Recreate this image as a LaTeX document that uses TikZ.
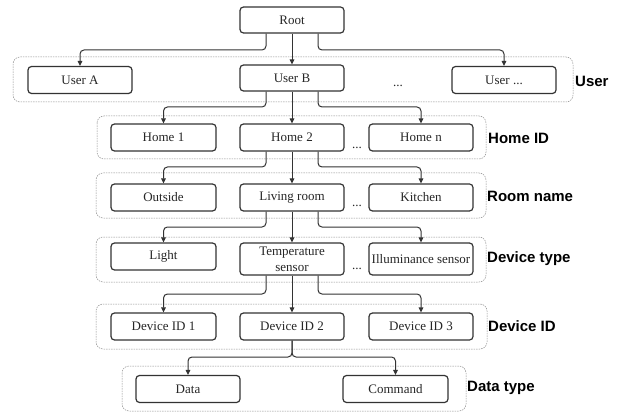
\documentclass[tikz,border=0pt]{standalone}
\usepackage{fontspec}
\setmainfont{Liberation Serif}
\newfontfamily\labfont{Liberation Sans}
\usetikzlibrary{arrows.meta}
\tikzset{
  box/.style={draw=black!80, line width=1.2pt, rounded corners=3.5pt, fill=white,
    minimum width=104pt, minimum height=27pt, inner sep=0pt, align=center,
    font=\fontsize{13}{15}\selectfont, text=black!85},
  conn/.style={draw=black!80, line width=1pt, rounded corners=4pt,
    -{Triangle[length=5pt,width=4.6pt]}},
  grp/.style={draw=black!45, line width=0.5pt, dash pattern=on 1.5pt off 1pt, rounded corners=7pt},
  lab/.style={anchor=west, inner sep=0pt, font=\labfont\bfseries\fontsize{15}{18}\selectfont},
  dots/.style={anchor=base, inner sep=0pt, font=\fontsize{13}{15}\selectfont, text=black!85}
}
\begin{document}
\begin{tikzpicture}[x=1pt,y=-1pt]
\useasboundingbox (0,0) rectangle (618,414);
% groups
\draw[grp] (13,57) rectangle (573,102);
\draw[grp] (97,116) rectangle (486,159);
\draw[grp] (96,173) rectangle (486,218);
\draw[grp] (96,237) rectangle (486,282);
\draw[grp] (96,304) rectangle (487,349);
\draw[grp] (122,366) rectangle (466,411);
% nodes
\node[box, minimum height=26pt] (root) at (292,20) {Root};
\node[box] (ua) at (80,80) {User A};
\node[box, minimum height=26pt] (ub) at (292,78) {User B};
\node[box] (uz) at (504,80) {User ...};
\node[box, minimum width=105pt] (h1) at (163.5,137.5) {Home 1};
\node[box] (h2) at (292,137.5) {Home 2};
\node[box] (hn) at (421,137.5) {Home n};
\node[box, minimum width=105pt] (r1) at (163.5,197.5) {Outside};
\node[box] (r2) at (292,197.5) {Living room};
\node[box] (r3) at (421,197.5) {Kitchen};
\node[box, minimum width=105pt] (d1) at (163.5,256.5) {Light};
\node[box, minimum height=32pt, font=\fontsize{13}{16}\selectfont] (d2) at (292,259) {Temperature\\sensor};
\node[box, minimum height=32pt] (d3) at (421,259) {Illuminance sensor};
\node[box, minimum width=105pt] (i1) at (163.5,326.5) {Device ID 1};
\node[box] (i2) at (292,326.5) {Device ID 2};
\node[box] (i3) at (421,326.5) {Device ID 3};
\node[box] (data) at (188,389) {Data};
\node[box, minimum width=105pt] (cmd) at (395.5,389) {Command};
% level coordinates
\coordinate (l1) at (0,50);
\coordinate (l2) at (0,107);
\coordinate (l3) at (0,167);
\coordinate (l4) at (0,227);
\coordinate (l5) at (0,294);
\coordinate (l6) at (0,357);
% connectors
\draw[conn] ([xshift=-26pt]root.south) |- (ua.north |- l1) -- (ua.north);
\draw[conn] (root.south) -- (ub.north);
\draw[conn] ([xshift=26pt]root.south) |- (uz.north |- l1) -- (uz.north);
\draw[conn] ([xshift=-26pt]ub.south) |- (h1.north |- l2) -- (h1.north);
\draw[conn] (ub.south) -- (h2.north);
\draw[conn] ([xshift=26pt]ub.south) |- (hn.north |- l2) -- (hn.north);
\draw[conn] ([xshift=-26pt]h2.south) |- (r1.north |- l3) -- (r1.north);
\draw[conn] (h2.south) -- (r2.north);
\draw[conn] ([xshift=26pt]h2.south) |- (r3.north |- l3) -- (r3.north);
\draw[conn] ([xshift=-26pt]r2.south) |- (d1.north |- l4) -- (d1.north);
\draw[conn] (r2.south) -- (d2.north);
\draw[conn] ([xshift=26pt]r2.south) |- (d3.north |- l4) -- (d3.north);
\draw[conn] ([xshift=-26pt]d2.south) |- (i1.north |- l5) -- (i1.north);
\draw[conn] (d2.south) -- (i2.north);
\draw[conn] ([xshift=26pt]d2.south) |- (i3.north |- l5) -- (i3.north);
\draw[conn] (i2.south) |- (data.north |- l6) -- (data.north);
\draw[conn] (i2.south) |- (cmd.north |- l6) -- (cmd.north);
% dots
\node[dots] (dot1) at (398,87) {...};
\node[dots] (dot2) at (357,149) {...};
\node[dots] (dot3) at (357,207) {...};
\node[dots] (dot4) at (357,269) {...};
% labels
\node[lab] (lu) at (575,81) {User};
\node[lab] (lh) at (488,138) {Home ID};
\node[lab] (lr) at (487,196) {Room name};
\node[lab] (ld) at (487,259) {Device type};
\node[lab] (li) at (488,326) {Device ID};
\node[lab] (lt) at (467,388) {Data type};
\end{tikzpicture}
\end{document}
